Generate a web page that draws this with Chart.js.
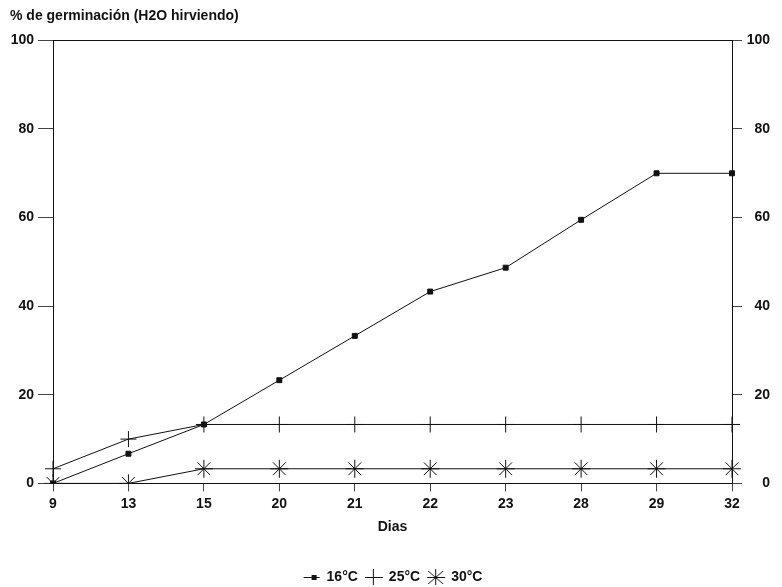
<!DOCTYPE html>
<html>
<head>
<meta charset="utf-8">
<script src="https://cdn.jsdelivr.net/npm/chart.js@4"></script>
<style>
  html, body { margin: 0; padding: 0; background: #fff; }
  #wrap { width: 782px; height: 587px; }
</style>
</head>
<body>
<div id="wrap"><canvas id="grafico"></canvas></div>
<script>
// Datos
const dias = ['9', '13', '15', '20', '21', '22', '23', '28', '29', '32'];
const serie16 = [0, 6.7, 13.3, 23.3, 33.3, 43.3, 48.7, 59.5, 70, 70];
const serie25 = [3.3, 10, 13.3, 13.3, 13.3, 13.3, 13.3, 13.3, 13.3, 13.3];
const serie30 = [0, 0, 3.3, 3.3, 3.3, 3.3, 3.3, 3.3, 3.3, 3.3];
const ticksY = [0, 20, 40, 60, 80, 100];

const fuente = 'Liberation Sans, Arial, sans-serif';
const negro = '#111';

// Iconos de la leyenda (glifo a la derecha del lienzo)
function icono(tipo) {
    const c = document.createElement('canvas');
    c.width = 26; c.height = 18;
    const g = c.getContext('2d');
    g.strokeStyle = negro; g.fillStyle = negro; g.lineWidth = 1;
    g.translate(6, 0);
    g.beginPath();
    if (tipo === 'rect') {
        g.moveTo(2, 9.5); g.lineTo(18, 9.5);
        g.stroke();
        g.fillRect(10, 7, 5, 5);
    } else if (tipo === 'cross') {
        g.moveTo(9.5, 1); g.lineTo(9.5, 17);
        g.moveTo(1, 9.5); g.lineTo(19, 9.5);
        g.stroke();
    } else {
        g.moveTo(9.5, 1); g.lineTo(9.5, 17);
        g.moveTo(1, 9.5); g.lineTo(19, 9.5);
        g.moveTo(2, 3); g.lineTo(17, 16);
        g.moveTo(17, 3); g.lineTo(2, 16);
        g.stroke();
    }
    return c;
}
const iconos = [icono('rect'), icono('cross'), icono('star')];

function ejeY(pos) {
    return {
        position: pos,
        min: 0, max: 100,
        afterBuildTicks: s => { s.ticks = ticksY.map(v => ({ value: v })); },
        afterFit: s => { s.width = pos === 'left' ? 43 : 38; },
        ticks: {
            color: negro, font: { family: fuente, size: 14, weight: 'bold' }, padding: 4,
            crossAlign: pos === 'left' ? 'near' : 'far'
        },
        grid: { drawOnChartArea: false, drawTicks: true, tickLength: pos === 'left' ? 15 : 10, color: '#444' },
        border: { display: true, color: negro, width: 1 }
    };
}

new Chart(document.getElementById('grafico'), {
    type: 'line',
    data: {
        labels: dias,
        datasets: [
            { label: '16°C', data: serie16, borderColor: negro, backgroundColor: negro, borderWidth: 1,
              pointStyle: 'rect', pointRadius: 3.5, tension: 0 },
            { label: '25°C', data: serie25, borderColor: negro, backgroundColor: negro, borderWidth: 1,
              pointStyle: 'cross', pointRadius: 8, pointBorderWidth: 1, tension: 0 },
            { label: '30°C', data: serie30, borderColor: negro, backgroundColor: negro, borderWidth: 1,
              pointStyle: 'star', pointRadius: 9, pointBorderWidth: 1, tension: 0 }
        ]
    },
    options: {
        responsive: true,
        maintainAspectRatio: false,
        animation: false,
        layout: { padding: { left: 10, right: 12, top: 0, bottom: -7 } },
        scales: {
            x: {
                position: 'bottom',
                offset: false,
                ticks: { color: negro, font: { family: fuente, size: 14, weight: 'bold' }, padding: 4, maxRotation: 0 },
                grid: { drawOnChartArea: false, drawTicks: true, tickLength: 8, color: '#444' },
                border: { display: true, color: negro, width: 1 },
                title: { display: true, text: 'Dias', color: negro, font: { family: fuente, size: 14, weight: 'bold' }, padding: { top: 3, bottom: 32 } }
            },
            xTop: {
                position: 'top',
                type: 'category',
                labels: dias,
                afterFit: s => { s.height = 15.6; },
                ticks: { display: false },
                grid: { display: false },
                border: { display: true, color: negro, width: 1 }
            },
            y: ejeY('left'),
            y2: ejeY('right')
        },
        plugins: {
            title: {
                display: true,
                text: '% de germinación (H2O hirviendo)',
                align: 'start',
                color: negro,
                font: { family: fuente, size: 14, weight: 'bold', lineHeight: 1.2 },
                padding: { top: 8, bottom: 0 }
            },
            legend: {
                position: 'bottom',
                labels: {
                    usePointStyle: true,
                    pointStyleWidth: 22,
                    color: negro,
                    boxHeight: 14,
                    padding: 2,
                    font: { family: fuente, size: 14, weight: 'bold' },
                    generateLabels: chart => {
                        const items = Chart.defaults.plugins.legend.labels.generateLabels(chart);
                        items.forEach((it, i) => { it.pointStyle = iconos[i]; });
                        return items;
                    }
                }
            },
            tooltip: { enabled: false }
        }
    }
});
</script>
</body>
</html>
